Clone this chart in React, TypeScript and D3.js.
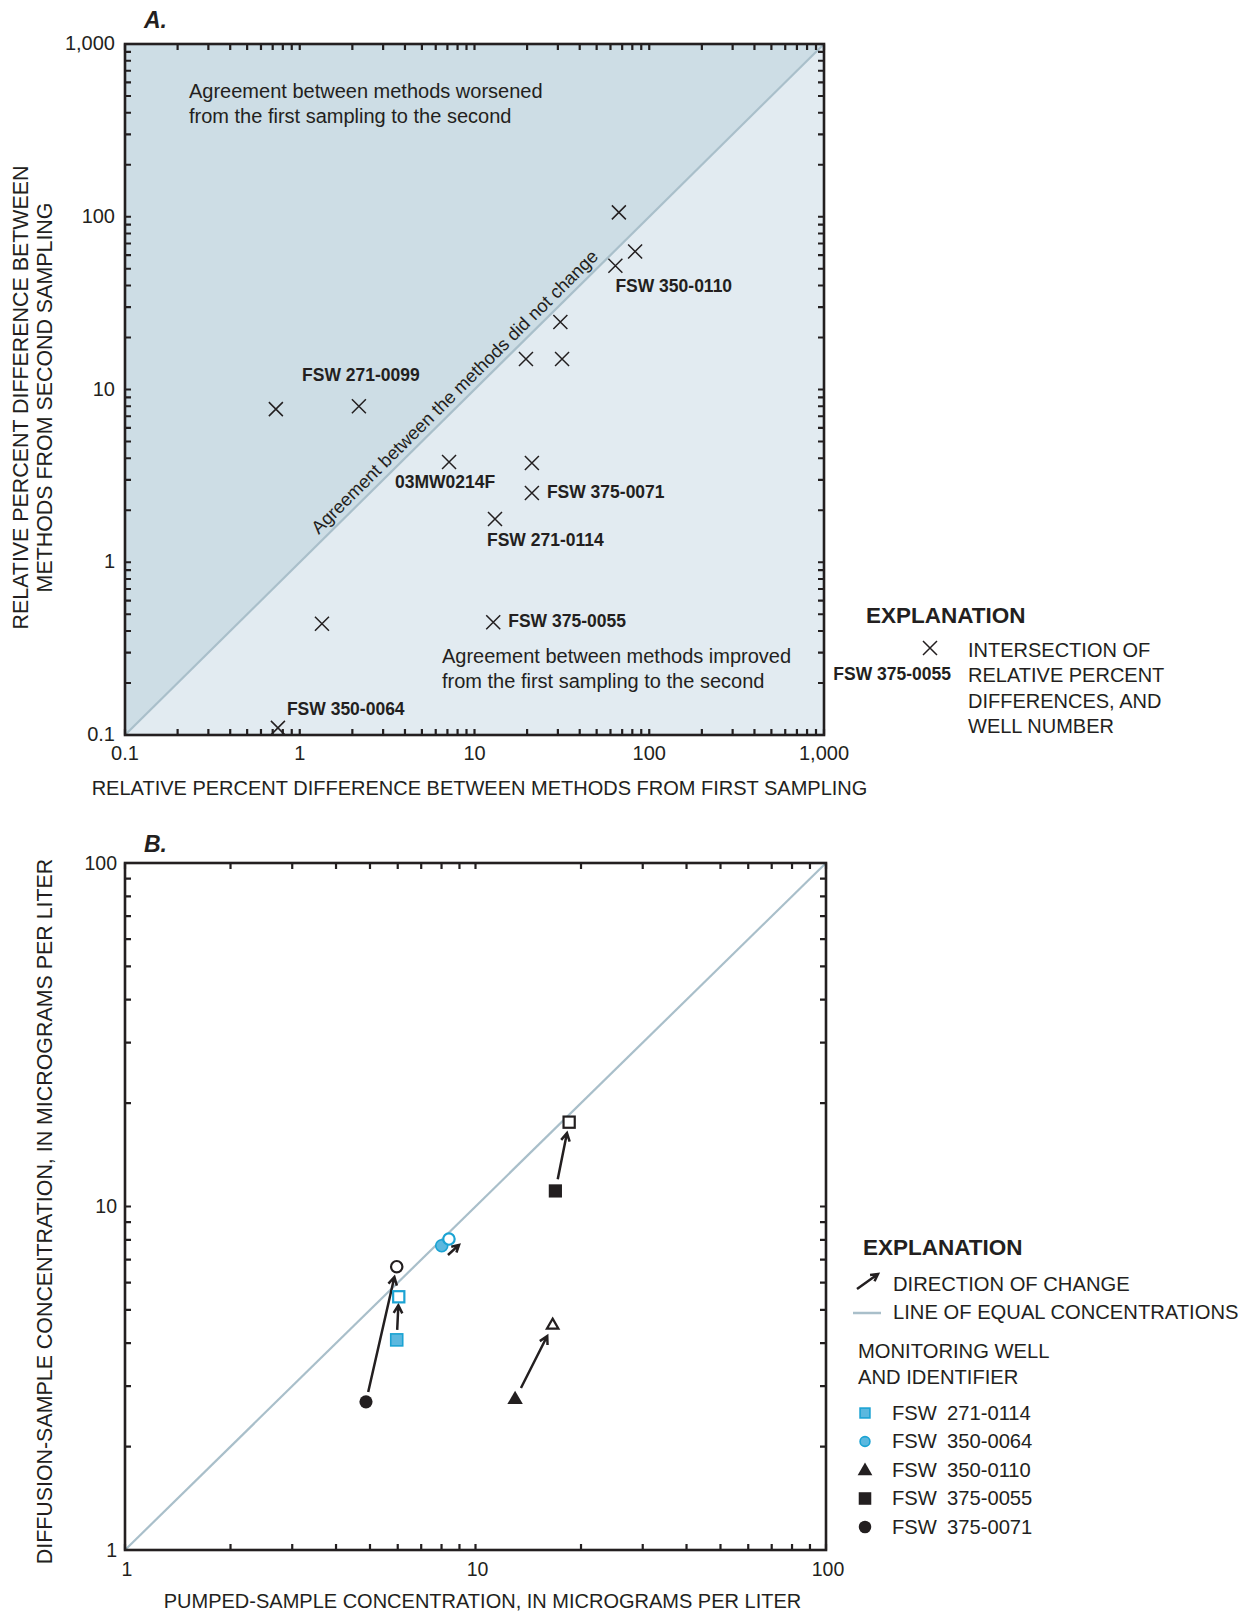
import React from "react";
import * as d3 from "d3";

const FONT = "'Liberation Sans', Arial, Helvetica, sans-serif";
const INK = "#231f20";
const BLUE = "#1ba3d3";
const BLUE_FILL = "#5bb8df";
const EQUAL_LINE = "#a9bfca";
const UPPER_FILL = "#cddde5";
const LOWER_FILL = "#e2ebf1";

// ---------- Panel A data ----------
const rpdFirstSampling = [0.73, 2.18, 67, 83, 64, 31, 19.7, 31.7, 1.34, 0.75, 7.15, 21.3, 21.3, 13.1, 12.8];
const rpdSecondSampling = [7.7, 8.0, 106, 63, 52, 24.6, 15, 15, 0.44, 0.11, 3.8, 3.75, 2.52, 1.78, 0.45];
const rpdWellLabels = ["", "FSW 271-0099", "", "", "FSW 350-0110", "", "", "", "", "FSW 350-0064", "03MW0214F", "", "FSW 375-0071", "FSW 271-0114", "FSW 375-0055"];
const rpdDomain = [0.1, 1000];
const rpdTickValues = [0.1, 1, 10, 100, 1000];

// ---------- Panel B data ----------
const wellIds = ["FSW  271-0114", "FSW  350-0064", "FSW  350-0110", "FSW  375-0055", "FSW  375-0071"];
const wellShapes = ["square", "circle", "triangle", "square", "circle"];
const wellIsBlue = [true, true, false, false, false];
const pumpedFirst = [5.96, 8.01, 12.97, 16.9, 4.87];
const diffusionFirst = [4.09, 7.69, 2.74, 11.1, 2.7];
const pumpedSecond = [6.04, 8.4, 16.6, 18.5, 5.96];
const diffusionSecond = [5.46, 8.04, 4.51, 17.6, 6.68];
const concDomain = [1, 100];
const concTickValues = [1, 10, 100];

// label placement (style) for panel A well labels: [dx, dy, anchor]
const labelPlacement: Record<string, [number, number, string]> = {
  "FSW 271-0099": [2, -25, "middle"],
  "FSW 350-0110": [0, 26, "start"],
  "FSW 350-0064": [9, -13, "start"],
  "03MW0214F": [-4, 26, "middle"],
  "FSW 375-0071": [15, 5, "start"],
  "FSW 271-0114": [-8, 27, "start"],
  "FSW 375-0055": [15, 5, "start"],
};

function logTicks(min: number, max: number) {
  const out: number[] = [];
  const e0 = Math.round(Math.log10(min));
  const e1 = Math.round(Math.log10(max));
  for (let e = e0; e < e1; e++) {
    for (let k = 1; k <= 9; k++) out.push(+(k * Math.pow(10, e)).toPrecision(3));
  }
  out.push(max);
  return out;
}

function arrowPath(x1: number, y1: number, x2: number, y2: number, gap1: number, gap2: number, head = 9) {
  const a = Math.atan2(y2 - y1, x2 - x1);
  const sx = x1 + gap1 * Math.cos(a);
  const sy = y1 + gap1 * Math.sin(a);
  const ex = x2 - gap2 * Math.cos(a);
  const ey = y2 - gap2 * Math.sin(a);
  const w = 0.5;
  const hx1 = ex - head * Math.cos(a - w);
  const hy1 = ey - head * Math.sin(a - w);
  const hx2 = ex - head * Math.cos(a + w);
  const hy2 = ey - head * Math.sin(a + w);
  return `M${sx},${sy}L${ex},${ey}M${hx1},${hy1}L${ex},${ey}L${hx2},${hy2}`;
}

function XMark({ x, y, s = 7 }: { x: number; y: number; s?: number }) {
  return (
    <path d={`M${x - s},${y - s}L${x + s},${y + s}M${x - s},${y + s}L${x + s},${y - s}`} stroke={INK} strokeWidth={1.5} fill="none" />
  );
}

function Marker({ shape, x, y, filled, blue, size = 1 }: { shape: string; x: number; y: number; filled: boolean; blue: boolean; size?: number }) {
  const stroke = blue ? BLUE : INK;
  const fill = filled ? (blue ? BLUE_FILL : INK) : "#ffffff";
  const sw = filled ? (blue ? 1.6 : 0) : 2.2;
  if (shape === "square") {
    const s = (filled ? (blue ? 12 : 13.2) : 11.2) * size;
    return <rect x={x - s / 2} y={y - s / 2} width={s} height={s} fill={fill} stroke={stroke} strokeWidth={sw} />;
  }
  if (shape === "circle") {
    const r = (filled ? (blue ? 6 : 6.6) : 5.7) * size;
    return <circle cx={x} cy={y} r={r} fill={fill} stroke={stroke} strokeWidth={sw} />;
  }
  const side = (filled ? 15.5 : 11.5) * size;
  const area = (side * side * Math.sqrt(3)) / 4;
  const d = d3.symbol(d3.symbolTriangle, area)() as string;
  return <path d={d} transform={`translate(${x},${y})`} fill={fill} stroke={stroke} strokeWidth={sw} strokeLinejoin="miter" />;
}

function Frame({ x0, x1, y0, y1, xTicks, yTicks, xs, ys }: any) {
  const L = 6;
  const tl: string[] = [];
  xTicks.forEach((t: number) => {
    const x = xs(t);
    tl.push(`M${x},${y1}L${x},${y1 - L}`);
    tl.push(`M${x},${y0}L${x},${y0 + L}`);
  });
  yTicks.forEach((t: number) => {
    const y = ys(t);
    tl.push(`M${x0},${y}L${x0 + L},${y}`);
    tl.push(`M${x1},${y}L${x1 - L},${y}`);
  });
  return (
    <g>
      <path d={tl.join("")} stroke={INK} strokeWidth={2.2} fill="none" />
      <rect x={x0} y={y0} width={x1 - x0} height={y1 - y0} fill="none" stroke={INK} strokeWidth={2.6} />
    </g>
  );
}

export default function App() {
  // ---------- Panel A scales ----------
  const ax0 = 125, ax1 = 824, ay0 = 44, ay1 = 735;
  const xA = d3.scaleLog().domain(rpdDomain).range([ax0, ax1]);
  const yA = d3.scaleLog().domain(rpdDomain).range([ay1, ay0]);
  const minorA = logTicks(rpdDomain[0], rpdDomain[1]);
  const fmt = (v: number) => (v < 1 ? String(v) : d3.format(",")(v));

  // diagonal label placement
  const diagStart = 1.36;
  const ang = (Math.atan2(yA(1000) - yA(0.1), xA(1000) - xA(0.1)) * 180) / Math.PI;
  const angR = (ang * Math.PI) / 180;
  const off = 6;
  const dlx = xA(diagStart) + off * Math.sin(angR);
  const dly = yA(diagStart) - off * Math.cos(angR);

  // ---------- Panel B scales ----------
  const bx0 = 125, bx1 = 826, by0 = 863, by1 = 1550;
  const xB = d3.scaleLog().domain(concDomain).range([bx0, bx1]);
  const yB = d3.scaleLog().domain(concDomain).range([by1, by0]);
  const minorB = logTicks(concDomain[0], concDomain[1]);

  const startGap = [10, 0, 13, 12, 10];
  const endGap = [8.5, 0, 12, 11, 10.5];

  return (
    <svg width={1251} height={1614} style={{ position: "absolute", left: 0, top: 0, background: "#ffffff" }} fontFamily={FONT}>
      <rect x={0} y={0} width={1251} height={1614} fill="#ffffff" />
      {/* ================= PANEL A ================= */}
      <text x={144} y={28} fontSize={23} fontWeight="bold" fontStyle="italic" fill={INK}>A.</text>
      <rect x={ax0} y={ay0} width={ax1 - ax0} height={ay1 - ay0} fill={LOWER_FILL} />
      <path d={`M${xA(0.1)},${yA(0.1)}L${xA(0.1)},${yA(1000)}L${xA(1000)},${yA(1000)}Z`} fill={UPPER_FILL} />
      <line x1={xA(0.1)} y1={yA(0.1)} x2={xA(1000)} y2={yA(1000)} stroke={EQUAL_LINE} strokeWidth={2.2} />
      <text x={dlx} y={dly} fontSize={18.3} fill={INK} transform={`rotate(${ang},${dlx},${dly})`}>
        Agreement between the methods did not change
      </text>
      <text x={189} y={98} fontSize={20} fill={INK}>
        <tspan x={189} y={98}>Agreement between methods worsened</tspan>
        <tspan x={189} y={123}>from the first sampling to the second</tspan>
      </text>
      <text x={442} y={663} fontSize={20} fill={INK}>
        <tspan x={442} y={663}>Agreement between methods improved</tspan>
        <tspan x={442} y={688}>from the first sampling to the second</tspan>
      </text>
      {rpdFirstSampling.map((v, i) => (
        <XMark key={"xa" + i} x={xA(v)} y={yA(rpdSecondSampling[i])} />
      ))}
      {rpdWellLabels.map((lab, i) => {
        if (!lab) return null;
        const p = labelPlacement[lab] || [8, 0, "start"];
        return (
          <text key={"la" + i} x={xA(rpdFirstSampling[i]) + p[0]} y={yA(rpdSecondSampling[i]) + p[1]} textAnchor={p[2]} fontSize={17.5} fontWeight="bold" fill={INK}>
            {lab}
          </text>
        );
      })}
      <Frame x0={ax0} x1={ax1} y0={ay0} y1={ay1} xTicks={minorA} yTicks={minorA} xs={xA} ys={yA} />
      {rpdTickValues.map((t) => (
        <text key={"yta" + t} x={115} y={yA(t) + 6} textAnchor="end" fontSize={20} fill={INK}>{fmt(t)}</text>
      ))}
      {rpdTickValues.map((t) => (
        <text key={"xta" + t} x={xA(t)} y={760} textAnchor="middle" fontSize={20} fill={INK}>{fmt(t)}</text>
      ))}
      <text x={(ax0 + ax1) / 2 + 5} y={795} textAnchor="middle" fontSize={20} fill={INK}>
        RELATIVE PERCENT DIFFERENCE BETWEEN METHODS FROM FIRST SAMPLING
      </text>
      <text transform={`translate(28,${(ay0 + ay1) / 2 + 8}) rotate(-90)`} textAnchor="middle" fontSize={21.4} fill={INK}>
        RELATIVE PERCENT DIFFERENCE BETWEEN
      </text>
      <text transform={`translate(52,${(ay0 + ay1) / 2 + 8}) rotate(-90)`} textAnchor="middle" fontSize={21.4} fill={INK}>
        METHODS FROM SECOND SAMPLING
      </text>
      {/* Legend A */}
      <text x={866} y={623} fontSize={22.5} fontWeight="bold" fill={INK}>EXPLANATION</text>
      <XMark x={930} y={648} />
      <text x={951} y={680} textAnchor="end" fontSize={17.5} fontWeight="bold" fill={INK}>FSW 375-0055</text>
      {["INTERSECTION OF", "RELATIVE PERCENT", "DIFFERENCES, AND", "WELL NUMBER"].map((s, i) => (
        <text key={"lga" + i} x={968} y={657 + i * 25.3} fontSize={20} fill={INK}>{s}</text>
      ))}

      {/* ================= PANEL B ================= */}
      <text x={144} y={852} fontSize={23} fontWeight="bold" fontStyle="italic" fill={INK}>B.</text>
      <line x1={xB(1)} y1={yB(1)} x2={xB(100)} y2={yB(100)} stroke={EQUAL_LINE} strokeWidth={2.2} />
      {pumpedFirst.map((v, i) => {
        const x1 = xB(v), y1 = yB(diffusionFirst[i]);
        const x2 = xB(pumpedSecond[i]), y2 = yB(diffusionSecond[i]);
        let d: string;
        if (startGap[i] === 0) {
          const a = Math.atan2(y2 - y1, x2 - x1);
          const sx = x2 - 1, sy = y2 + 16;
          d = arrowPath(sx, sy, sx + 15 * Math.cos(a), sy + 15 * Math.sin(a), 0, 0, 8);
        } else {
          d = arrowPath(x1, y1, x2, y2, startGap[i], endGap[i]);
        }
        return <path key={"ar" + i} d={d} stroke={INK} strokeWidth={2.5} fill="none" strokeLinejoin="miter" />;
      })}
      {pumpedFirst.map((v, i) => (
        <Marker key={"m1" + i} shape={wellShapes[i]} x={xB(v)} y={yB(diffusionFirst[i])} filled={true} blue={wellIsBlue[i]} />
      ))}
      {pumpedSecond.map((v, i) => (
        <Marker key={"m2" + i} shape={wellShapes[i]} x={xB(v)} y={yB(diffusionSecond[i])} filled={false} blue={wellIsBlue[i]} />
      ))}
      <Frame x0={bx0} x1={bx1} y0={by0} y1={by1} xTicks={minorB} yTicks={minorB} xs={xB} ys={yB} />
      {concTickValues.map((t) => (
        <text key={"ytb" + t} x={117} y={yB(t) + 6.5} textAnchor="end" fontSize={19.5} fill={INK}>{fmt(t)}</text>
      ))}
      {concTickValues.map((t) => (
        <text key={"xtb" + t} x={xB(t) + 2} y={1576} textAnchor="middle" fontSize={19.5} fill={INK}>{fmt(t)}</text>
      ))}
      <text x={(bx0 + bx1) / 2 + 7} y={1608} textAnchor="middle" fontSize={20} fill={INK}>
        PUMPED-SAMPLE CONCENTRATION, IN MICROGRAMS PER LITER
      </text>
      <text transform={`translate(52,${(by0 + by1) / 2 + 5}) rotate(-90)`} textAnchor="middle" fontSize={21.4} fill={INK}>
        DIFFUSION-SAMPLE CONCENTRATION, IN MICROGRAMS PER LITER
      </text>
      {/* Legend B */}
      <text x={863} y={1255} fontSize={22.5} fontWeight="bold" fill={INK}>EXPLANATION</text>
      <path d={arrowPath(857, 1289, 878, 1274, 0, 0, 8)} stroke={INK} strokeWidth={2.5} fill="none" />
      <text x={893} y={1291} fontSize={20.2} fill={INK}>DIRECTION OF CHANGE</text>
      <line x1={853} y1={1313} x2={881} y2={1313} stroke={EQUAL_LINE} strokeWidth={2.5} />
      <text x={893} y={1319} fontSize={20.2} fill={INK}>LINE OF EQUAL CONCENTRATIONS</text>
      <text x={858} y={1358} fontSize={20.2} fill={INK}>MONITORING WELL</text>
      <text x={858} y={1384} fontSize={20.2} fill={INK}>AND IDENTIFIER</text>
      {wellIds.map((w, i) => {
        const y = 1413 + i * 28.5;
        const parts = w.split(/\s+/);
        return (
          <g key={"lgb" + i}>
            <Marker shape={wellShapes[i]} x={865} y={y + (wellShapes[i] === "triangle" ? 1 : 0)} filled={true} blue={wellIsBlue[i]} size={wellIsBlue[i] ? 0.82 : 0.95} />
            <text x={892} y={y + 6.5} fontSize={20.2} fill={INK}>{parts[0]}</text>
            <text x={947} y={y + 6.5} fontSize={20.2} fill={INK}>{parts[1]}</text>
          </g>
        );
      })}
    </svg>
  );
}
